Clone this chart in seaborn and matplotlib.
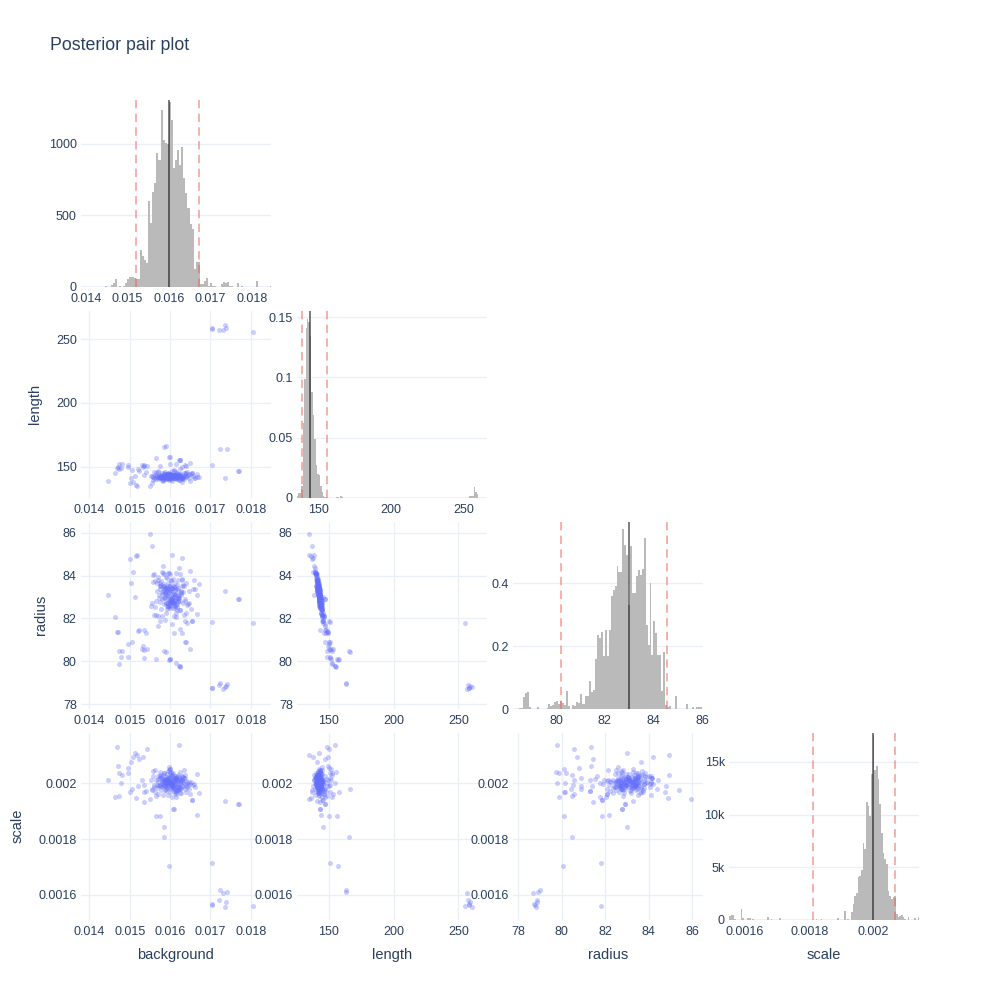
import numpy as np
import pandas as pd
import matplotlib
matplotlib.use("Agg")
import matplotlib.pyplot as plt
import seaborn as sns

# ---- diagonal histograms (density per bin) ----
BG_START, BG_WIDTH = 0.0144, 0.00005
bg_density = [
    0, 10, 0, 0, 15, 25, 55, 0, 10, 0,
    10, 30, 58, 70, 68, 63, 58, 54, 256, 214,
    191, 170, 600, 450, 664, 727, 932, 886, 1235, 1026,
    1002, 1000, 1294, 1166, 828, 886, 956, 851, 979, 758,
    653, 548, 443, 408, 128, 175, 175, 23, 19, 40,
    60, 10, 25, 10, 10, 0, 0, 20, 35, 30,
    35, 10, 10, 0, 0, 30, 0, 10, 0, 0,
    0, 0, 0, 0, 40, 0, 0, 0, 0, 0,
    0, 10,
]

LENGTH_START, LENGTH_WIDTH = 135.2, 1.0
length_left = [135.2, 136.2, 137.2, 138.2, 139.2, 140.2, 141.2, 142.2, 143.2, 144.2,
               145.2, 146.2, 147.2, 148.2, 149.2, 150.2, 151.2, 152.2, 153.2, 154.2,
               155.2, 162.2, 163.2, 165.2, 166.2, 254.2, 255.2, 256.2, 257.2, 258.2,
               259.2]
length_density = [0.002, 0.004, 0.004, 0.010, 0.062, 0.099, 0.141, 0.148, 0.146, 0.134,
                  0.088, 0.069, 0.049, 0.027, 0.020, 0.019, 0.010, 0.005, 0.002, 0.001,
                  0.001, 0.001, 0.001, 0.0015, 0.001, 0.002, 0.0015, 0.002, 0.009, 0.005,
                  0.003]

RADIUS_START, RADIUS_WIDTH = 78.48, 0.08
radius_density = [
    0.004, 0.004, 0.037, 0.051, 0.054, 0.006, 0, 0, 0, 0.006,
    0, 0, 0, 0, 0.002, 0.016, 0.008, 0.014, 0.022, 0.025,
    0.016, 0.025, 0.019, 0.014, 0.057, 0.009, 0, 0.012, 0.009, 0.022,
    0.019, 0.048, 0.016, 0.016, 0.041, 0.041, 0.089, 0.055, 0.060, 0.159,
    0.234, 0.224, 0.245, 0.167, 0.250, 0.167, 0.250, 0.358, 0.377, 0.390,
    0.453, 0.435, 0.435, 0.571, 0.521, 0.489, 0.331, 0.519, 0.369, 0.369,
    0.423, 0.441, 0.425, 0.444, 0.543, 0.267, 0.202, 0.400, 0.170, 0.280,
    0.240, 0.170, 0.170, 0.057, 0.180, 0.012, 0.005, 0.008, 0, 0,
    0.041, 0, 0, 0, 0, 0, 0.016, 0, 0, 0.005,
    0, 0.005, 0.005, 0.005,
]

SCALE_START, SCALE_WIDTH = 0.00155, 0.0000052
scale_density = [
    350, 500, 500, 100, 0, 0, 0, 1000, 150, 0,
    0, 200, 200, 0, 100, 0, 0, 0, 0, 0,
    0, 0, 0, 300, 0, 100, 0, 0, 0, 0,
    200, 0, 0, 0, 0, 0, 0, 0, 0, 0,
    0, 0, 0, 0, 0, 0, 0, 0, 0, 0,
    0, 0, 50, 0, 0, 50, 0, 0, 0, 0,
    0, 0, 0, 0, 0, 200, 0, 0, 0, 900,
    0, 100, 0, 800, 1500, 2300, 2600, 4100, 4200, 4700,
    7300, 6700, 11200, 10800, 9900, 13900, 17600, 14200, 14600, 13400,
    11000, 8300, 6400, 5800, 5300, 2800, 2300, 2000, 2200, 2300,
    600, 300, 400, 500, 300, 100, 0, 300, 0, 0,
    0, 200, 0, 300,
]

# median and 2.5 / 97.5 % lines per parameter
medians = {"background": 0.016005, "length": 144.0, "radius": 83.01, "scale": 0.0020}
lower_q = {"background": 0.015208, "length": 138.9, "radius": 80.18, "scale": 0.001811}
upper_q = {"background": 0.016740, "length": 155.8, "radius": 84.57, "scale": 0.002066}

# ---- posterior draws shown in the scatter panels ----
bg_core = [
    0.01592, 0.01608, 0.01575, 0.01621, 0.01599, 0.01563, 0.01634, 0.01587, 0.01612, 0.01648,
    0.01581, 0.01603, 0.01626, 0.01569, 0.01595, 0.01641, 0.01557, 0.01617, 0.01589, 0.01606,
    0.01572, 0.01629, 0.01598, 0.01614, 0.01584, 0.01656, 0.01566, 0.01601, 0.01623, 0.01590,
    0.01611, 0.01578, 0.01637, 0.01596, 0.01560, 0.01619, 0.01604, 0.01583, 0.01645, 0.01593,
    0.01615, 0.01571, 0.01600, 0.01632, 0.01586, 0.01609, 0.01553, 0.01625, 0.01597, 0.01662,
    0.01580, 0.01613, 0.01594, 0.01639, 0.01568, 0.01605, 0.01621, 0.01588, 0.01650, 0.01576,
    0.01602, 0.01618, 0.01565, 0.01630, 0.01591, 0.01610, 0.01574, 0.01643, 0.01598, 0.01585,
    0.01627, 0.01561, 0.01607, 0.01616, 0.01579, 0.01653, 0.01593, 0.01620, 0.01570, 0.01604,
    0.01589, 0.01636, 0.01599, 0.01558, 0.01612, 0.01583, 0.01628, 0.01596, 0.01667, 0.01607,
    0.01573, 0.01614, 0.01590, 0.01646, 0.01601, 0.01567, 0.01624, 0.01582, 0.01609, 0.01595,
    0.01633, 0.01577, 0.01603, 0.01619, 0.01587, 0.01659, 0.01562, 0.01611, 0.01597, 0.01626,
    0.01584, 0.01606, 0.01640, 0.01571, 0.01600, 0.01617, 0.01592, 0.01629, 0.01555, 0.01613,
    0.01598, 0.01611, 0.01586, 0.01604, 0.01622, 0.01579, 0.01607, 0.01593, 0.01615, 0.01601,
    0.01589, 0.01618, 0.01596, 0.01609, 0.01583, 0.01627, 0.01600, 0.01591, 0.01613, 0.01605,
    0.01576, 0.01620, 0.01597, 0.01608, 0.01632, 0.01585, 0.01603, 0.01616, 0.01594, 0.01610,
    0.01587, 0.01624, 0.01599, 0.01612, 0.01581, 0.01606, 0.01638, 0.01592, 0.01619, 0.01602,
    0.01574, 0.01614, 0.01595, 0.01628, 0.01590, 0.01608, 0.01617, 0.01584, 0.01600, 0.01623,
    0.01596, 0.01611, 0.01588, 0.01635, 0.01603, 0.01578, 0.01619, 0.01594, 0.01606, 0.01613,
]
length_core = [
    142.1, 143.5, 141.2, 144.0, 142.8, 140.6, 145.1, 142.3, 143.9, 144.6,
    141.8, 142.9, 144.4, 140.9, 142.5, 145.7, 139.8, 143.2, 142.0, 141.5,
    143.6, 141.0, 142.7, 146.2, 140.3, 143.0, 144.8, 142.2, 139.4, 143.8,
    142.6, 141.4, 145.4, 143.3, 140.8, 142.4, 147.0, 141.9, 143.7, 142.9,
    144.2, 140.5, 142.0, 143.1, 141.6, 146.6, 142.8, 139.9, 144.9, 141.3,
    143.4, 142.2, 140.0, 145.3, 141.7, 143.9, 142.6, 144.1, 139.2, 142.9,
    141.1, 144.7, 142.4, 140.7, 143.2, 147.6, 141.9, 142.7, 143.5, 140.4,
    142.0, 145.9, 141.5, 143.0, 139.6, 144.3, 142.8, 141.2, 146.0, 143.6,
    140.9, 142.5, 144.5, 141.8, 143.1, 138.9, 142.3, 145.0, 141.6, 143.9,
    142.7, 140.2, 143.4, 141.3, 144.0, 142.1, 148.2, 139.7, 142.9, 143.3,
    141.5, 143.8, 140.6, 142.4, 145.6, 141.0, 143.2, 142.6, 139.5, 144.4,
    142.2, 143.7, 141.8, 146.8, 140.1, 142.9, 144.6, 141.4, 143.0, 142.5,
    142.4, 143.1, 141.7, 142.9, 143.6, 141.2, 142.2, 144.1, 142.7, 141.9,
    143.3, 142.0, 140.8, 143.8, 142.5, 141.5, 144.5, 142.8, 141.1, 143.0,
    142.3, 140.5, 143.5, 142.1, 141.8, 144.2, 142.6, 143.2, 140.9, 142.4,
    141.6, 143.7, 142.9, 141.3, 144.8, 142.2, 143.4, 141.0, 142.7, 143.9,
    142.0, 141.4, 143.1, 142.5, 140.7, 143.6, 142.3, 141.9, 144.3, 142.8,
    141.2, 143.0, 142.6, 140.4, 143.3, 142.1, 141.7, 144.0, 142.9, 141.5,
]
radius_core = [
    83.43, 82.47, 83.63, 82.95, 82.85, 83.73, 82.14, 83.42, 82.59, 82.71,
    83.13, 83.27, 82.37, 83.78, 83.50, 81.79, 84.04, 82.52, 83.46, 83.43,
    83.09, 83.49, 83.03, 82.08, 83.53, 83.38, 82.14, 83.30, 84.37, 82.27,
    83.12, 83.76, 81.89, 82.74, 84.06, 82.78, 81.76, 83.50, 82.65, 83.07,
    82.24, 83.91, 83.51, 82.70, 83.40, 82.10, 82.60, 84.06, 82.61, 83.35,
    82.90, 82.85, 84.12, 82.23, 83.26, 82.94, 82.82, 82.97, 84.19, 82.77,
    83.81, 82.37, 82.83, 83.84, 83.22, 81.32, 83.50, 82.63, 82.82, 84.09,
    83.11, 82.18, 83.83, 82.63, 84.16, 82.46, 83.30, 83.33, 82.09, 82.74,
    83.93, 82.90, 82.49, 83.68, 82.50, 84.44, 83.17, 82.52, 83.10, 82.74,
    82.93, 84.11, 83.15, 83.30, 82.60, 83.63, 81.52, 84.12, 82.62, 83.04,
    83.58, 82.42, 83.73, 83.43, 81.93, 83.79, 82.52, 83.47, 84.14, 82.37,
    82.95, 82.80, 83.63, 81.63, 84.09, 82.67, 82.46, 83.81, 82.73, 83.10,
    83.23, 82.70, 83.61, 82.92, 83.04, 83.23, 83.35, 82.57, 82.88, 83.50,
    82.74, 83.56, 83.41, 82.72, 83.30, 83.28, 82.79, 82.70, 83.66, 82.93,
    83.37, 83.81, 82.57, 83.53, 83.23, 82.69, 82.77, 83.12, 83.63, 82.98,
    83.20, 82.80, 83.32, 83.45, 82.09, 83.40, 82.80, 83.89, 82.93, 82.79,
    83.51, 83.36, 82.90, 83.25, 83.39, 83.04, 82.97, 83.35, 82.71, 82.95,
    83.38, 83.13, 83.17, 83.49, 82.89, 83.58, 83.11, 82.60, 83.12, 83.33,
]
scale_core = [
    0.002012, 0.001987, 0.002031, 0.001995, 0.002004, 0.001968, 0.002046, 0.001991, 0.002020, 0.001979,
    0.002008, 0.002039, 0.001983, 0.002015, 0.001958, 0.002001, 0.002026, 0.001974, 0.002010, 0.001997,
    0.001989, 0.002022, 0.002003, 0.001962, 0.002035, 0.001993, 0.002013, 0.002051, 0.001981, 0.002006,
    0.002017, 0.001976, 0.001999, 0.002043, 0.001986, 0.002009, 0.001952, 0.002028, 0.001994, 0.002014,
    0.001971, 0.002005, 0.002024, 0.001990, 0.002037, 0.001980, 0.002011, 0.001998, 0.002057, 0.001985,
    0.002002, 0.001964, 0.002019, 0.002007, 0.001992, 0.002033, 0.001977, 0.002016, 0.001996, 0.002041,
    0.001984, 0.002010, 0.001955, 0.002027, 0.002000, 0.001972, 0.002023, 0.001988, 0.002049, 0.002006,
    0.002013, 0.001993, 0.002036, 0.001969, 0.002018, 0.002003, 0.001982, 0.002029, 0.001961, 0.001997,
    0.002021, 0.001978, 0.002008, 0.002044, 0.001987, 0.002012, 0.001966, 0.002000, 0.002032, 0.001990,
    0.001995, 0.002025, 0.001973, 0.002004, 0.002038, 0.001983, 0.002015, 0.001959, 0.002009, 0.002022,
    0.002006, 0.001989, 0.002030, 0.001976, 0.002011, 0.001998, 0.002047, 0.001981, 0.002019, 0.001965,
    0.001992, 0.002014, 0.001970, 0.002026, 0.002001, 0.001985, 0.002034, 0.002007, 0.001979, 0.002017,
    0.002005, 0.001992, 0.002014, 0.001998, 0.002021, 0.001986, 0.002009, 0.001995, 0.002017, 0.002002,
    0.001989, 0.002011, 0.001999, 0.002026, 0.001994, 0.002007, 0.001981, 0.002013, 0.002000, 0.001990,
    0.002018, 0.001996, 0.002004, 0.001984, 0.002023, 0.002001, 0.001993, 0.002010, 0.001988, 0.002015,
    0.002003, 0.001979, 0.002019, 0.001997, 0.002008, 0.001991, 0.002028, 0.002000, 0.001985, 0.002012,
    0.001994, 0.002016, 0.002006, 0.001983, 0.002010, 0.001997, 0.002022, 0.001989, 0.002003, 0.002014,
    0.001992, 0.002009, 0.001976, 0.002019, 0.002001, 0.002025, 0.001987, 0.002011, 0.001998, 0.002006,
]

# draws away from the bulk (tails and the second mode near length 258)
bg_tail = [
    0.01622, 0.01469, 0.01542, 0.01514, 0.01519, 0.01509, 0.01534, 0.01522, 0.01503, 0.01495,
    0.01474, 0.01495, 0.01446, 0.01478, 0.01536, 0.01507, 0.01540, 0.01464, 0.01474, 0.01536,
    0.01654, 0.01655, 0.01575, 0.01608, 0.01609, 0.01586, 0.01586, 0.01598, 0.01703, 0.01550,
    0.01555, 0.01515, 0.01500, 0.01673, 0.01666, 0.01736, 0.01769, 0.01770, 0.01589, 0.01601,
    0.01626, 0.01637, 0.01600, 0.01650, 0.01640, 0.01630, 0.01605, 0.01630, 0.01615, 0.01625,
    0.01530, 0.01535, 0.01470, 0.01520, 0.01565, 0.01481,
    0.01703, 0.01703, 0.01721, 0.01731, 0.01736, 0.01740, 0.01723, 0.01742, 0.01806,
]
length_tail = [
    154.9, 148.9, 150.5, 142.7, 134.6, 138.1, 149.7, 147.0, 141.0, 150.0,
    152.4, 151.0, 138.7, 149.0, 151.0, 147.1, 146.0, 145.0, 148.4, 143.3,
    145.0, 145.2, 150.2, 143.3, 143.5, 145.4, 165.7, 157.4, 151.0, 135.0,
    137.0, 136.0, 137.0, 142.0, 144.0, 141.0, 147.0, 146.8, 166.5, 157.9,
    155.0, 151.0, 152.0, 153.0, 150.5, 149.5, 138.5, 138.0, 152.5, 155.5,
    151.5, 150.8, 149.5, 148.5, 156.6, 152.4,
    258.0, 258.3, 257.5, 256.9, 260.8, 259.0, 163.5, 163.5, 255.3,
]
radius_tail = [
    79.78, 81.37, 80.57, 83.01, 84.94, 84.18, 80.71, 81.45, 83.63, 80.80,
    79.89, 80.22, 83.10, 80.18, 80.53, 80.91, 81.30, 82.05, 80.50, 81.45,
    81.88, 81.86, 81.88, 82.78, 82.80, 83.01, 80.47, 80.07, 81.82, 85.94,
    85.39, 84.90, 84.75, 83.60, 82.20, 83.30, 82.90, 82.92, 80.45, 80.10,
    79.80, 80.90, 80.10, 80.55, 80.90, 81.30, 84.95, 84.80, 79.90, 79.75,
    80.55, 80.15, 81.35, 81.40, 80.10, 80.50,
    78.74, 78.76, 78.89, 78.69, 78.81, 78.85, 78.99, 78.92, 81.80,
]
scale_tail = [
    0.002137, 0.002131, 0.002122, 0.002108, 0.002101, 0.002095, 0.002093, 0.002086, 0.002075, 0.002054,
    0.002036, 0.002036, 0.002012, 0.002000, 0.001994, 0.001980, 0.001973, 0.001952, 0.001954, 0.001934,
    0.001940, 0.001941, 0.001883, 0.001907, 0.001908, 0.001844, 0.001809, 0.001703, 0.001715, 0.001943,
    0.001976, 0.001946, 0.001970, 0.001966, 0.001885, 0.001937, 0.001925, 0.001926, 0.001980, 0.001970,
    0.002000, 0.002020, 0.002050, 0.001960, 0.001990, 0.002010, 0.002030, 0.001990, 0.001950, 0.002040,
    0.002010, 0.001970, 0.002060, 0.001990, 0.001883, 0.002030,
    0.001567, 0.001565, 0.001582, 0.001606, 0.001556, 0.001576, 0.001618, 0.001612, 0.001561,
]

params = ["background", "length", "radius", "scale"]

# axis ranges and ticks
scatter_range = {"background": (0.013794, 0.018503), "length": (125.5, 272.0),
                 "radius": (77.77, 86.5), "scale": (0.00151, 0.00218)}
hist_xrange = {"background": (0.01388, 0.018466), "length": (135.3, 266.3),
               "radius": (78.22, 86.04), "scale": (0.00155, 0.002142)}
hist_ymax = {"background": 1305, "length": 0.155, "radius": 0.594, "scale": 17750}
ticks = {
    "background": ([0.014, 0.015, 0.016, 0.017, 0.018], ["0.014", "0.015", "0.016", "0.017", "0.018"]),
    "length": ([150, 200, 250], ["150", "200", "250"]),
    "radius": ([78, 80, 82, 84, 86], ["78", "80", "82", "84", "86"]),
    "scale": ([0.0016, 0.0018, 0.002], ["0.0016", "0.0018", "0.002"]),
}
hist_yticks = {
    "background": ([0, 500, 1000], ["0", "500", "1000"]),
    "length": ([0, 0.05, 0.1, 0.15], ["0", "0.05", "0.1", "0.15"]),
    "radius": ([0, 0.2, 0.4], ["0", "0.2", "0.4"]),
    "scale": ([0, 5000, 10000, 15000], ["0", "5k", "10k", "15k"]),
}

TEXT = "#2a3f5f"
GRID = "#EBF0F8"
POINT = "#636EFA"

sns.set_theme(style="white")
plt.rcParams["font.family"] = ["Liberation Sans", "DejaVu Sans"]

samples = pd.DataFrame({
    "background": bg_core + bg_tail,
    "length": length_core + length_tail,
    "radius": radius_core + radius_tail,
    "scale": scale_core + scale_tail,
})


# histogram tables built from the bin lists: (table, start, width, n_bins)
def dense_hist(start, width, dens):
    n = len(dens)
    table = pd.DataFrame({"value": start + width * (np.arange(n) + 0.5),
                          "density": np.array(dens, dtype=float)})
    return table, start, width, n


hist_data = {
    "background": dense_hist(BG_START, BG_WIDTH, bg_density),
    "radius": dense_hist(RADIUS_START, RADIUS_WIDTH, radius_density),
    "scale": dense_hist(SCALE_START, SCALE_WIDTH, scale_density),
}
n_len = int(round((max(length_left) - LENGTH_START) / LENGTH_WIDTH)) + 1
hist_data["length"] = (pd.DataFrame({"value": np.array(length_left) + LENGTH_WIDTH / 2,
                                     "density": length_density}),
                       LENGTH_START, LENGTH_WIDTH, n_len)

fig = plt.figure(figsize=(10, 10), dpi=100)
fig.patch.set_facecolor("white")

COL_X = [81, 297, 513, 729]
ROW_Y = [100, 311, 522, 733]
PW, PH = 190, 187


def panel(row, col):
    ax = fig.add_axes([COL_X[col] / 1000, 1 - (ROW_Y[row] + PH) / 1000, PW / 1000, PH / 1000])
    ax.set_facecolor("none")
    for s in ax.spines.values():
        s.set_visible(False)
    ax.tick_params(length=0, labelsize=9, colors=TEXT)
    ax.tick_params(axis="x", pad=4)
    ax.tick_params(axis="y", pad=3)
    ax.set_axisbelow(True)
    return ax


for i, p in enumerate(params):
    # diagonal: histogram with median and interval lines
    ax = panel(i, i)
    table, start, width, n = hist_data[p]
    sns.histplot(data=table, x="value", weights="density", bins=n,
                 binrange=(start, start + n * width), stat="count",
                 color="#bababa", alpha=1, linewidth=0, ax=ax)
    ax.axvline(medians[p], color="black", alpha=0.6, lw=1.2)
    for qv in (lower_q[p], upper_q[p]):
        ax.axvline(qv, color="#ee5b4b", alpha=0.6, lw=1.1, dashes=(5.5, 3.5))
    ax.set_xticks(*ticks[p])
    ax.set_yticks(*hist_yticks[p])
    ax.set_xlim(*hist_xrange[p])
    ax.set_ylim(0, hist_ymax[p])
    ax.grid(True, axis="y", color=GRID, lw=1)
    ax.axhline(0, color=GRID, lw=2, zorder=0)
    ax.set_xlabel("")
    ax.set_ylabel("")

    # lower triangle: scatter of posterior draws
    for j in range(i):
        q = params[j]
        ax = panel(i, j)
        sns.scatterplot(data=samples, x=q, y=p, color=POINT, alpha=0.33, s=13,
                        linewidth=0, ax=ax)
        ax.set_xticks(*ticks[q])
        ax.set_yticks(*ticks[p])
        ax.set_xlim(*scatter_range[q])
        ax.set_ylim(*scatter_range[p])
        ax.grid(True, color=GRID, lw=1)
        ax.set_xlabel("")
        ax.set_ylabel("")


def px_text(x, y, s, **kw):
    fig.text(x / 1000, 1 - y / 1000, s, color=TEXT, ha="center", va="center", **kw)


fig.text(50 / 1000, 1 - 45 / 1000, "Posterior pair plot", color=TEXT, fontsize=12.8,
         ha="left", va="center")
for x, lab in zip([175, 392, 608, 824], params):
    px_text(x, 955, lab, fontsize=10.5)
px_text(35, 404, "length", fontsize=10.5, rotation=90)
px_text(41, 615, "radius", fontsize=10.5, rotation=90)
px_text(18, 826, "scale", fontsize=10.5, rotation=90)

fig.savefig("out.png", dpi=100, facecolor="white")
